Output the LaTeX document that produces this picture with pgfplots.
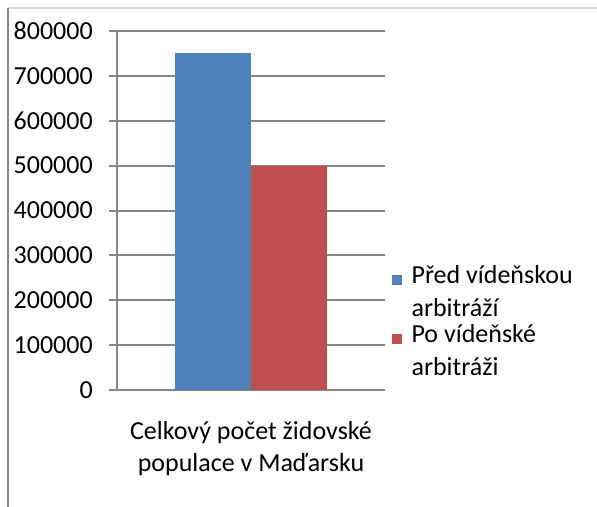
\documentclass[border=0pt]{standalone}
\usepackage{fontspec}
\setmainfont{Carlito}
\usepackage{pgfplots}
\pgfplotsset{compat=1.18}

\definecolor{xlblue}{HTML}{4F81BD}
\definecolor{xlred}{HTML}{C0504D}
\definecolor{xlgrid}{HTML}{868686}
\definecolor{xlframe}{HTML}{D9D9D9}

\begin{document}
\begin{tikzpicture}
% picture frame, 1px = 0.75pt
\useasboundingbox (0,0) rectangle (447.75pt,380.25pt);
\draw[xlframe, line width=1.2pt] (6pt,374.25pt) -- (447.75pt,374.25pt);
\draw[xlgrid, line width=1.5pt] (6pt,374.25pt) -- (6pt,0pt);

\begin{axis}[
  at={(87.75pt,87.75pt)}, anchor=origin,
  scale only axis,
  width=201pt, height=269.25pt,
  xmin=0, xmax=1, ymin=0, ymax=800000,
  axis x line=bottom, axis y line=left,
  axis line style={xlgrid, line width=1.5pt, -},
  ymajorgrids,
  grid style={xlgrid, line width=1.5pt},
  ytick={0,100000,...,800000},
  scaled y ticks=false,
  tick align=outside,
  major tick length=6pt,
  tick style={xlgrid, line width=1.5pt},
  yticklabel style={/pgf/number format/fixed, /pgf/number format/1000 sep={},
    /pgf/number format/assume math mode=true, inner sep=0pt, xshift=-12pt},
  font=\fontsize{19.5}{24}\selectfont,
  xtick={0.5},
  xticklabels={{Celkový počet židovské\\populace v Maďarsku}},
  xticklabel style={align=center, yshift=-14pt},
  major x tick style={draw=none},
  extra x ticks={0,1},
  extra x tick labels={},
  extra x tick style={tick style={xlgrid, line width=1.5pt}, major tick length=6pt},
  ybar=0pt, bar width=57pt,
  legend style={at={(axis description cs:1.026,0.355)}, anchor=north west,
    draw=none, fill=none, cells={anchor=west, align=left},
    font=\fontsize{19.5}{25}\selectfont, row sep=0pt, column sep=5pt, inner sep=0pt},
  legend image code/.code={\fill[#1] (0pt,5.5pt) rectangle (7.5pt,13pt);},
]
\addplot[fill=xlblue, draw=none] coordinates {(0.5,750000)};
\addplot[fill=xlred, draw=none] coordinates {(0.5,500000)};
\legend{Před vídeňskou\\arbitráží, Po vídeňské\\arbitráži}
\end{axis}
\end{tikzpicture}
\end{document}
